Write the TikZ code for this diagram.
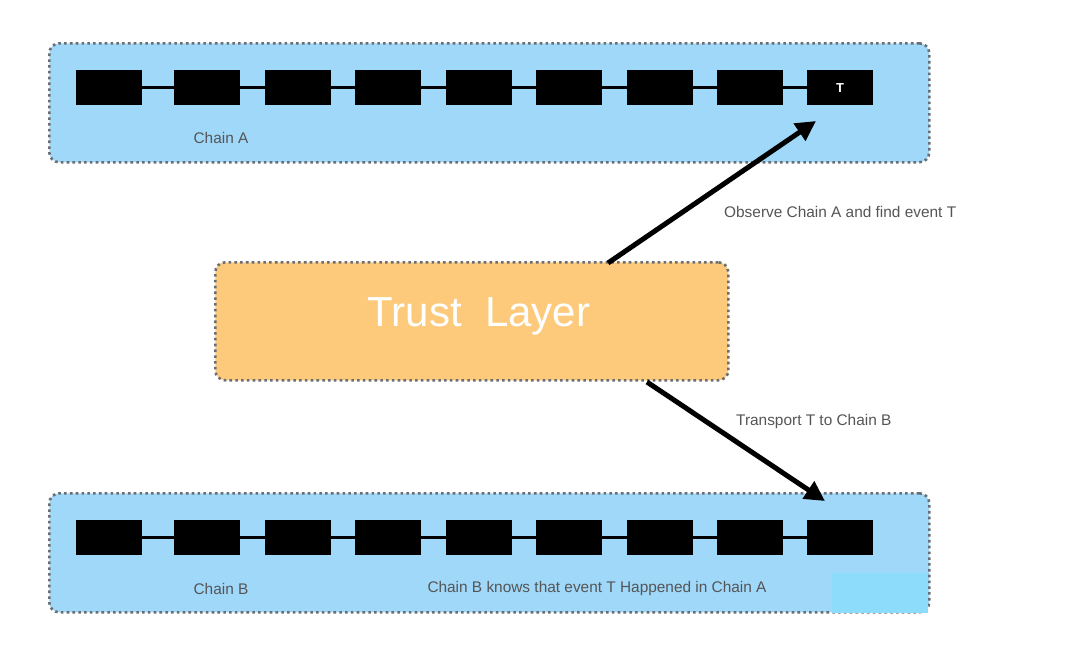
\documentclass[tikz,border=0pt]{standalone}
\usepackage{fontspec}
\setmainfont{Liberation Sans}
\usetikzlibrary{arrows.meta,calc}
\definecolor{chainblue}{HTML}{A0D8FA}
\definecolor{patchblue}{HTML}{8EDCFB}
\definecolor{trustorange}{HTML}{FDCA7B}
\definecolor{dotgray}{HTML}{6A6E72}
\definecolor{txtgray}{HTML}{555555}
\tikzset{
  chainbox/.style={fill=chainblue, draw=dotgray, line width=2.6pt, dash pattern=on 2.6pt off 3.2pt, rounded corners=10pt},
  trustbox/.style={fill=trustorange, draw=dotgray, line width=2.6pt, dash pattern=on 2.6pt off 3.2pt, rounded corners=10pt},
  blk/.style={fill=black, draw=none, minimum width=66pt, minimum height=35pt, inner sep=0pt, anchor=north west},
  link/.style={line width=3pt, draw=black},
  bigarrow/.style={line width=5pt, -{Triangle[length=20pt,width=20pt]}},
  lbl/.style={text=txtgray, font=\fontsize{15.4}{17}\selectfont, inner sep=0pt},
}
\begin{document}
\begin{tikzpicture}[x=1pt,y=-1pt]
\useasboundingbox (0,0) rectangle (1080,651);
\fill[white] (0,0) rectangle (1080,651);
% chain boxes
\node[chainbox, minimum width=880pt, minimum height=119pt, anchor=north west, inner sep=0pt] (boxA) at (48,42) {};
\node[chainbox, minimum width=880pt, minimum height=119pt, anchor=north west, inner sep=0pt] (boxB) at (48,492) {};
\fill[patchblue] (832,573) rectangle (928,612.5);
% trust layer
\node[trustbox, minimum width=513pt, minimum height=118pt, inner sep=0pt, anchor=north west] (trust) at (214,261) {};
\node[text=white, font=\fontsize{42}{46}\selectfont, inner sep=0pt] (trusttxt) at (479,316) {Trust\ \ Layer};
% blocks
\foreach \i/\x in {1/76,2/174,3/265,4/355,5/446,6/536,7/627,8/717,9/807}{
  \node[blk] (a\i) at (\x,70) {};
  \node[blk] (b\i) at (\x,520) {};
}
\node[text=white, font=\fontsize{13}{15}\selectfont\bfseries] (tA) at (a9.center) {T};
\foreach \i [evaluate=\i as \j using int(\i+1)] in {1,...,8}{
  \draw[link] (a\i.east) -- (a\j.west);
  \draw[link] (b\i.east) -- (b\j.west);
}
% labels
\node[lbl] (labA) at (221,138) {Chain A};
\node[lbl] (labB) at (221,589) {Chain B};
\node[lbl] (labB2) at (597,589) {Chain B knows that event T Happened in Chain A};
\node[lbl, anchor=west] (obs) at (724,212) {Observe Chain A and find event T};
\node[lbl, anchor=west] (trn) at (736,422) {Transport T to Chain B};
% arrows
\coordinate (s1) at (608,263);
\coordinate (e1) at (816,121);
\coordinate (s2) at (647,382);
\coordinate (e2) at (825,501);
\draw[bigarrow] (s1) -- (e1);
\draw[bigarrow] (s2) -- (e2);
\end{tikzpicture}
\end{document}
